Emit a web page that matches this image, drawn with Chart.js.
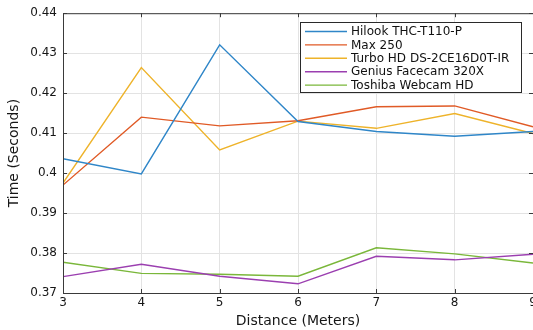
<!DOCTYPE html>
<html>
<head>
<meta charset="utf-8">
<script src="https://cdn.jsdelivr.net/npm/chart.js@4"></script>
<style>
  html, body { margin: 0; padding: 0; background: #fff; overflow: hidden; }
  #wrap { position: absolute; left: 0; top: 0; width: 545px; height: 330px; }
</style>
</head>
<body>
<div id="wrap"><canvas id="chart" width="545" height="330"></canvas></div>
<script>
// distances (m) and response times (s)
const distances = [3, 4, 5, 6, 7, 8, 9];
const hilook  = [0.4036, 0.3998, 0.4321, 0.4129, 0.4104, 0.4092, 0.4104];
const max250  = [0.3970, 0.4140, 0.4118, 0.4131, 0.4166, 0.4168, 0.4116];
const turbo   = [0.3975, 0.4264, 0.4058, 0.4130, 0.4112, 0.4149, 0.4099];
const genius  = [0.3741, 0.3772, 0.3742, 0.3723, 0.3792, 0.3783, 0.3797];
const toshiba = [0.3777, 0.3749, 0.3747, 0.3742, 0.3813, 0.3798, 0.3775];

const seriesNames = ['Hilook THC-T110-P', 'Max 250', 'Turbo HD DS-2CE16D0T-IR', 'Genius Facecam 320X', 'Toshiba Webcam HD'];
const seriesData = [hilook, max250, turbo, genius, toshiba];
const colors = ['#2f86c8', '#e05a26', '#eeb32a', '#9b3fb0', '#7ab73a'];

const FONT = "'DejaVu Sans', 'Liberation Sans', Arial, sans-serif";
const INK = '#161616';

// MATLAB-style box, inward ticks and legend inside the axes
const boxPlugin = {
  id: 'box',
  afterDatasetsDraw(chart) {
    const { ctx, chartArea: a, scales: { x, y } } = chart;
    ctx.save();
    ctx.strokeStyle = '#3a3a3a';
    ctx.lineWidth = 1;
    ctx.strokeRect(a.left + 0.5, a.top + 0.5, a.right - a.left, a.bottom - a.top);
    ctx.beginPath();
    distances.forEach(d => {
      const px = Math.round(x.getPixelForValue(d)) + 0.5;
      ctx.moveTo(px, a.bottom); ctx.lineTo(px, a.bottom - 4);
      ctx.moveTo(px, a.top); ctx.lineTo(px, a.top + 4);
    });
    y.ticks.forEach(t => {
      const py = Math.round(y.getPixelForValue(t.value)) + 0.5;
      ctx.moveTo(a.left, py); ctx.lineTo(a.left + 4, py);
      ctx.moveTo(a.right, py); ctx.lineTo(a.right - 4, py);
    });
    ctx.stroke();

    // legend
    const lx = 300, ly = 22, lw = 221, lh = 70;
    ctx.fillStyle = '#fff';
    ctx.fillRect(lx, ly, lw, lh);
    ctx.strokeStyle = '#2a2a2a';
    ctx.strokeRect(lx + 0.5, ly + 0.5, lw, lh);
    ctx.font = '12px ' + FONT;
    ctx.textBaseline = 'middle';
    ctx.fillStyle = '#111';
    chart.data.datasets.forEach((ds, i) => {
      const cy = ly + 9.5 + i * 13.4;
      ctx.strokeStyle = ds.borderColor;
      ctx.lineWidth = 1.4;
      ctx.beginPath();
      ctx.moveTo(305, cy); ctx.lineTo(347, cy);
      ctx.stroke();
      ctx.fillText(ds.label, 351, cy + 0.5);
    });
    ctx.restore();
  }
};

new Chart(document.getElementById('chart'), {
  type: 'line',
  data: {
    labels: distances,
    datasets: seriesData.map((d, i) => ({
      label: seriesNames[i],
      data: d.map((v, j) => ({ x: distances[j], y: v })),
      borderColor: colors[i],
      backgroundColor: colors[i],
      borderWidth: 1.4,
      pointRadius: 0,
      tension: 0,
      fill: false
    }))
  },
  options: {
    responsive: false,
    animation: false,
    layout: { padding: { left: 6, top: 12, right: 12, bottom: 0 } },
    plugins: { legend: { display: false }, tooltip: { enabled: false } },
    scales: {
      x: {
        type: 'linear',
        min: 3, max: 9,
        afterFit(s) { s.height = 37; },
        grid: { color: '#e3e3e3', drawTicks: false },
        border: { display: false },
        ticks: { stepSize: 1, padding: 3, color: INK, font: { family: FONT, size: 12 } },
        title: { display: true, text: 'Distance (Meters)', color: INK, padding: 0, font: { family: FONT, size: 14 } }
      },
      y: {
        min: 0.37, max: 0.44,
        afterFit(s) { s.width = 57; },
        grid: { color: '#e3e3e3', drawTicks: false },
        border: { display: false },
        ticks: {
          stepSize: 0.01, padding: 6, color: INK, font: { family: FONT, size: 12 },
          callback: v => String(parseFloat(v.toFixed(2)))
        },
        title: { display: true, text: 'Time (Seconds)', color: INK, padding: 0, font: { family: FONT, size: 14 } }
      }
    }
  },
  plugins: [boxPlugin]
});
</script>
</body>
</html>
